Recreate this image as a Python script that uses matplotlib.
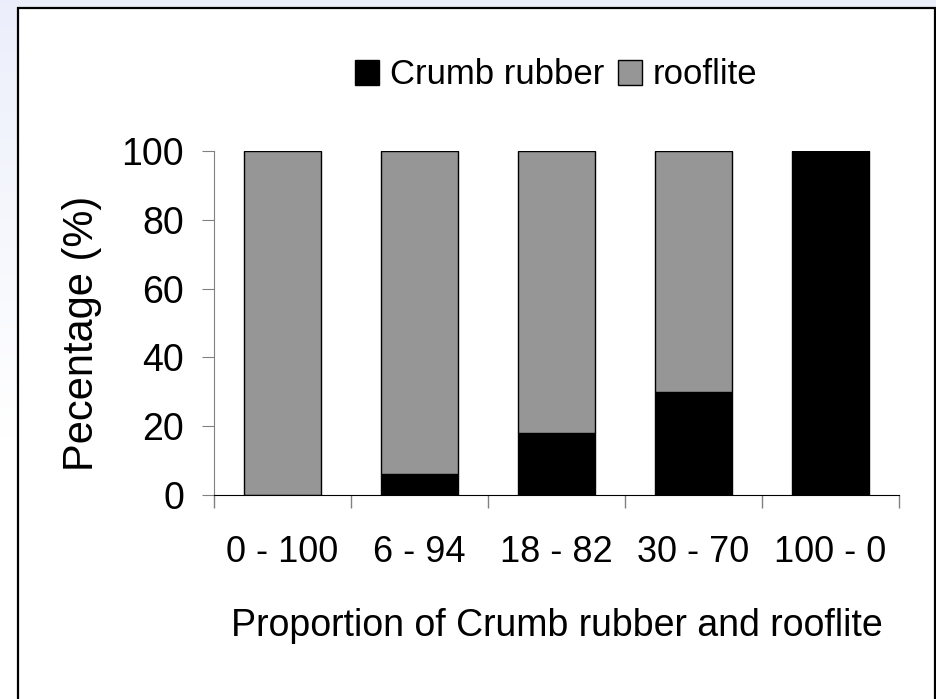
import numpy as np
import matplotlib
matplotlib.use("Agg")
import matplotlib.pyplot as plt
from matplotlib.patches import Rectangle

plt.rcParams["font.family"] = ["Liberation Sans", "DejaVu Sans"]

# ── Data ─────────────────────────────────────────────────────────────────────
categories = ["0 - 100", "6 - 94", "18 - 82", "30 - 70", "100 - 0"]
crumb_rubber = [0, 6, 18, 30, 100]
rooflite = [100, 94, 82, 70, 0]
y_ticks = [0, 20, 40, 60, 80, 100]

W, H = 937, 699
fig = plt.figure(figsize=(W / 100, H / 100), dpi=100)

# background gradient (light lavender on top fading to white)
bg = fig.add_axes([0, 0, 1, 1], zorder=-10)
grad = np.linspace(0, 1, 256).reshape(-1, 1)
top = np.array([0.925, 0.937, 0.984])
rgb = top[None, None, :] + (1 - top[None, None, :]) * np.clip(grad[:, :, None] * 1.6, 0, 1)
bg.imshow(rgb, aspect="auto", extent=[0, 1, 0, 1], origin="upper")
bg.set_axis_off()

# white panel with black frame
fig.patches.append(Rectangle((18 / W, -0.05), (935 - 18) / W, (H - 8) / H + 0.05,
                             transform=fig.transFigure, facecolor="white",
                             edgecolor="black", linewidth=1.6, zorder=-5))

ax = fig.add_axes([214 / W, 204 / H, 685 / W, 344 / H])
ax.patch.set_alpha(0)
x = np.arange(len(categories))
ax.bar(x, crumb_rubber, width=0.56, color="black", edgecolor="black",
       linewidth=1.0, label="Crumb rubber")
ax.bar(x, rooflite, width=0.56, bottom=crumb_rubber, color="#969696",
       edgecolor="black", linewidth=1.0, label="rooflite")

ax.set_xlim(-0.5, len(categories) - 0.5)
ax.set_ylim(0, 100)
ax.set_yticks(y_ticks)
ax.tick_params(axis="y", labelsize=27, length=8.6, color="#808080", pad=13)

ax.set_xticks(x)
ax.set_xticklabels(categories)
ax.tick_params(axis="x", which="major", length=0, labelsize=26, pad=29)
ax.set_xticks(np.arange(len(categories) + 1) - 0.5, minor=True)
ax.tick_params(axis="x", which="minor", length=9, color="#808080", width=1)

for s in ["top", "right"]:
    ax.spines[s].set_visible(False)
ax.spines["left"].set_color("#808080")
ax.spines["bottom"].set_color("black")

fig.text(82 / W, 1 - 333 / H, "Pecentage (%)", fontsize=30, rotation=90,
         ha="center", va="center")
fig.text(556.5 / W, 1 - 636 / H, "Proportion of Crumb rubber and rooflite",
         fontsize=27, ha="center", va="baseline")

fig.legend(loc="center", bbox_to_anchor=(556 / W, 1 - 75 / H), ncol=2,
           frameon=False, fontsize=25, handlelength=0.7, handleheight=0.7,
           handletextpad=0.3, columnspacing=0.4)

fig.savefig("out.png", dpi=100)
